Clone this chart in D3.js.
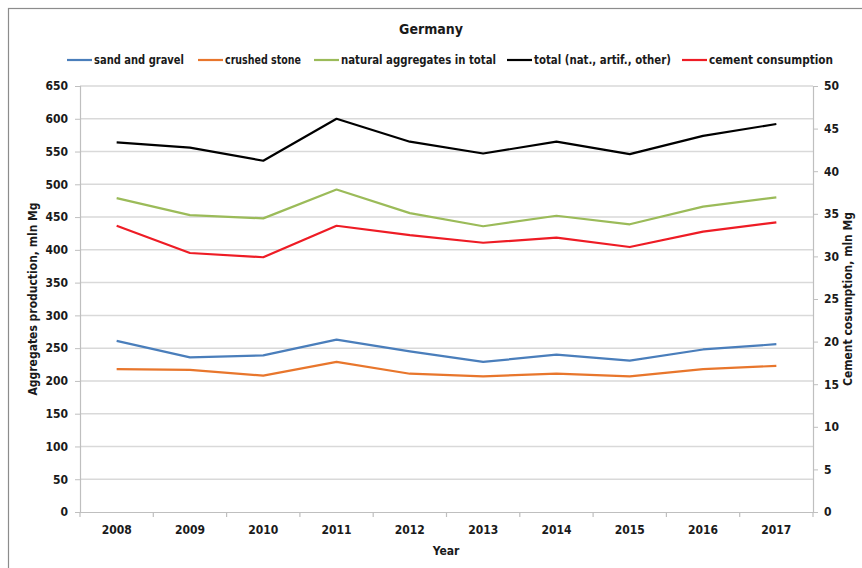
<!DOCTYPE html>
<html><head><meta charset="utf-8">
<script src="https://cdn.jsdelivr.net/npm/d3@7"></script>
<style>
body{margin:0;background:#fff;}
text{font-family:"Liberation Sans Narrow","DejaVu Sans Condensed","Roboto Condensed",sans-serif;font-weight:bold;fill:#1a1a1a;}
</style></head><body>
<svg id="c" width="862" height="568"></svg>
<script>
const years = ["2008","2009","2010","2011","2012","2013","2014","2015","2016","2017"];
const sandGravel = [261, 236, 239, 263, 245, 229, 240, 231, 248, 256];
const crushedStone = [218, 217, 208, 229, 211, 207, 211, 207, 218, 223];
const naturalTotal = [479, 453, 448, 492, 456, 436, 452, 439, 466, 480];
const totalAll = [564, 556, 536, 600, 565, 547, 565, 546, 574, 592];
const cement = [33.6, 30.4, 29.9, 33.6, 32.5, 31.6, 32.2, 31.1, 32.9, 34.0];
const leftTicks = [0,50,100,150,200,250,300,350,400,450,500,550,600,650];
const rightTicks = [0,5,10,15,20,25,30,35,40,45,50];
const seriesNames = ["sand and gravel","crushed stone","natural aggregates in total","total (nat., artif., other)","cement consumption"];
const seriesColors = ["#4a7ebb","#e8762c","#9bbb59","#000000","#ee1c25"];

const svg = d3.select("#c");
// outer frame
svg.append("rect").attr("x",8.5).attr("y",8.5).attr("width",870).attr("height",580)
  .attr("fill","#fff").attr("stroke","#8c8c8c").attr("stroke-width",1.2);

const L=80, R=813, T=86, B=512;
const x = d3.scaleBand().domain(years).range([L,R]);
const yL = d3.scaleLinear().domain([0,650]).range([B,T]);
const yR = d3.scaleLinear().domain([0,50]).range([B,T]);

// gridlines
svg.append("g").selectAll("line").data(leftTicks.filter(d=>d>0)).join("line")
  .attr("x1",L).attr("x2",R).attr("y1",d=>yL(d)).attr("y2",d=>yL(d))
  .attr("stroke","#d9d9d9").attr("stroke-width",1.5);

// left axis
const gl = svg.append("g").attr("transform",`translate(${L},0)`)
  .call(d3.axisLeft(yL).tickValues(leftTicks).tickSize(5).tickPadding(7));
gl.select(".domain").attr("stroke","#bfbfbf").attr("stroke-width",1.2);
gl.selectAll(".tick line").attr("stroke","#bfbfbf");
gl.selectAll(".tick text").attr("font-size",12);
gl.attr("font-family",null).attr("font-size",null);

// right axis
const gr = svg.append("g").attr("transform",`translate(${R},0)`)
  .call(d3.axisRight(yR).tickValues(rightTicks).tickSize(5).tickPadding(6));
gr.select(".domain").attr("stroke","#bfbfbf").attr("stroke-width",1.2);
gr.selectAll(".tick line").attr("stroke","#bfbfbf");
gr.selectAll(".tick text").attr("font-size",12);
gr.attr("font-family",null).attr("font-size",null);

// bottom axis
const gb = svg.append("g").attr("transform",`translate(0,${B})`)
  .call(d3.axisBottom(x).tickSize(0).tickPadding(13));
gb.select(".domain").attr("stroke","#bfbfbf").attr("stroke-width",1.2);
gb.selectAll(".tick text").attr("font-size",12);
gb.attr("font-family",null).attr("font-size",null);
// category boundary ticks
svg.append("g").selectAll("line").data(years.concat(["end"])).join("line")
  .attr("x1",(d,i)=>L+i*x.step()).attr("x2",(d,i)=>L+i*x.step())
  .attr("y1",B).attr("y2",B+5).attr("stroke","#bfbfbf").attr("stroke-width",1.2);

// lines
const cx = d => x(d)+x.bandwidth()/2;
const leftSeries = [sandGravel, crushedStone, naturalTotal, totalAll];
leftSeries.forEach((s,i)=>{
  svg.append("path").datum(s).attr("fill","none").attr("stroke",seriesColors[i])
    .attr("stroke-width",2.2).attr("stroke-linejoin","round")
    .attr("d",d3.line().x((d,j)=>cx(years[j])).y(d=>yL(d)));
});
svg.append("path").datum(cement).attr("fill","none").attr("stroke",seriesColors[4])
  .attr("stroke-width",2.2).attr("stroke-linejoin","round")
  .attr("d",d3.line().x((d,j)=>cx(years[j])).y(d=>yR(d)));

// title
svg.append("text").attr("x",431).attr("y",34).attr("text-anchor","middle").attr("font-size",14).text("Germany");

// legend
const legX = [67,198,314,507,682];
const legW = [90,76,155,137,124];
seriesNames.forEach((n,i)=>{
  svg.append("line").attr("x1",legX[i]).attr("x2",legX[i]+25).attr("y1",60).attr("y2",60)
    .attr("stroke",seriesColors[i]).attr("stroke-width",2.2);
  svg.append("text").attr("x",legX[i]+27).attr("y",64).attr("font-size",12)
    .attr("textLength",legW[i]).attr("lengthAdjust","spacingAndGlyphs").text(n);
});

// axis titles
svg.append("text").attr("transform","translate(37,299) rotate(-90)").attr("text-anchor","middle")
  .attr("font-size",12).text("Aggregates production, mln Mg");
svg.append("text").attr("transform","translate(852,299) rotate(-90)").attr("text-anchor","middle")
  .attr("font-size",12).text("Cement cosumption, mln Mg");
svg.append("text").attr("x",446).attr("y",555).attr("text-anchor","middle").attr("font-size",12).text("Year");
</script></body></html>
